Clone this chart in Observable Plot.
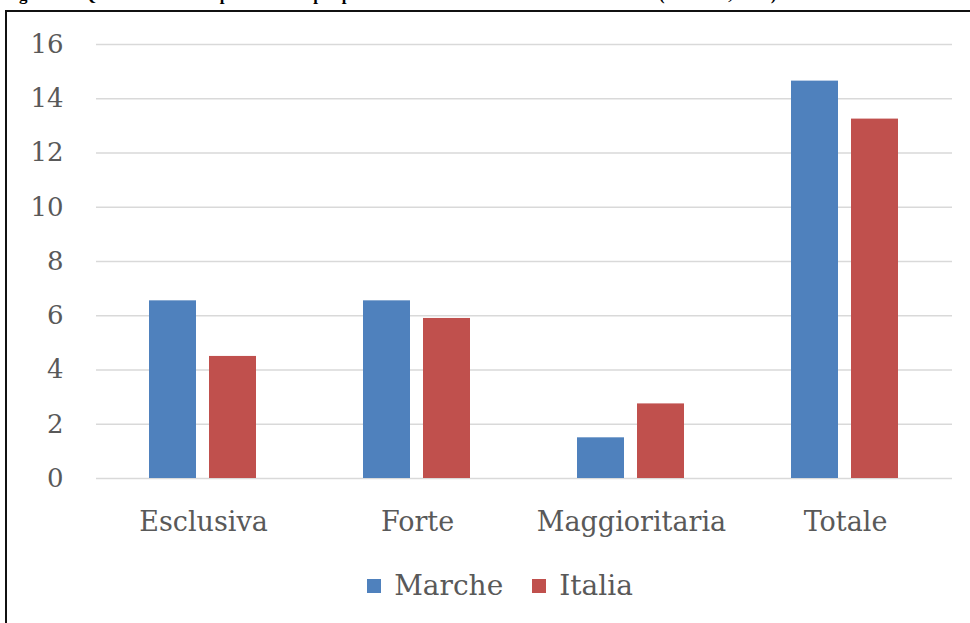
<!DOCTYPE html>
<html>
<head>
<meta charset="utf-8">
<script src="https://cdn.jsdelivr.net/npm/d3@7"></script>
<script src="https://cdn.jsdelivr.net/npm/@observablehq/plot@0.6"></script>
<style>
  html, body { margin: 0; padding: 0; background: #fff; width: 970px; height: 623px; overflow: hidden; position: relative; }
  #title { position: absolute; left: 0; top: 0; width: 970px; height: 10px; overflow: hidden; }
  #title span { position: absolute; left: 4px; top: -15px; line-height: 18px; font: bold 17px "Liberation Serif", serif; white-space: nowrap; color: #000; }
  #frame { position: absolute; left: 5px; top: 10px; width: 970px; height: 620px; border-left: 2px solid #111; border-top: 2px solid #111; }
  #chart { position: absolute; left: 7px; top: 12px; }
  #legend { position: absolute; top: 569px; left: 0; width: 1000px; display: flex; justify-content: center; gap: 29px; font-family: "DejaVu Serif", serif; font-size: 28px; color: #595959; }
  #legend .item { display: flex; align-items: center; gap: 13px; }
  #legend .sw { width: 14px; height: 14px; display: inline-block; }
</style>
</head>
<body>
<div id="title"><span>Figura 4 – Quota delle start-up innovative per presenza femminile nelle Marche e in Italia (valori %, 2016)</span></div>
<div id="frame"></div>
<div id="chart"></div>
<div id="legend"></div>
<script>
const categories = ["Esclusiva", "Forte", "Maggioritaria", "Totale"];
const seriesNames = ["Marche", "Italia"];
const marcheValues = [6.55, 6.55, 1.5, 14.65];
const italiaValues = [4.5, 5.9, 2.75, 13.25];
const yTicks = [0, 2, 4, 6, 8, 10, 12, 14, 16];
const colors = ["#4F81BD", "#C0504D"];

const data = [];
categories.forEach((c, i) => {
  data.push({category: c, series: seriesNames[0], value: marcheValues[i]});
  data.push({category: c, series: seriesNames[1], value: italiaValues[i]});
});

const plot = Plot.plot({
  width: 963,
  height: 540,
  marginLeft: 88,
  marginRight: 17,
  marginTop: 32,
  marginBottom: 74,
  style: {fontFamily: "DejaVu Serif, serif", fontSize: "26px", color: "#595959", background: "transparent"},
  fx: {domain: categories, padding: 0, label: null},
  x: {domain: seriesNames, paddingInner: 0.213, paddingOuter: 0.865, axis: null},
  y: {domain: [0, 16], ticks: yTicks, label: null, tickSize: 0, tickPadding: 33},
  color: {domain: seriesNames, range: colors},
  marks: [
    Plot.gridY(yTicks, {stroke: "#d9d9d9", strokeOpacity: 1, strokeWidth: 1.6}),
    Plot.barY(data, {fx: "category", x: "series", y: "value", fill: "series"}),
    Plot.axisFx({anchor: "bottom", tickSize: 0, tickPadding: 33, fontSize: 27, label: null})
  ]
});
document.getElementById("chart").appendChild(plot);

const legend = document.getElementById("legend");
seriesNames.forEach((s, i) => {
  const item = document.createElement("div");
  item.className = "item";
  const sw = document.createElement("span");
  sw.className = "sw";
  sw.style.background = colors[i];
  const t = document.createElement("span");
  t.textContent = s;
  item.appendChild(sw);
  item.appendChild(t);
  legend.appendChild(item);
});
</script>
</body>
</html>
